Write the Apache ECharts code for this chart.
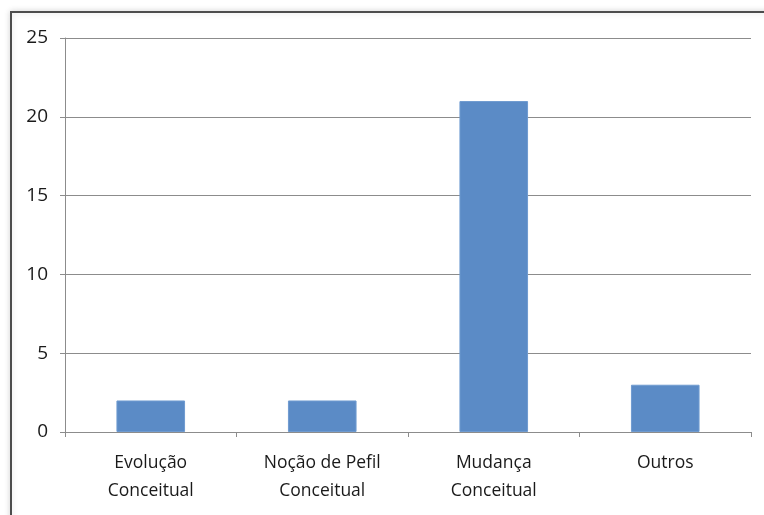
<!DOCTYPE html>
<html>
<head>
<meta charset="utf-8">
<script src="https://cdn.jsdelivr.net/npm/echarts@6/dist/echarts.min.js"></script>
<style>
  html, body { margin: 0; padding: 0; background: #fff; }
  #chart { width: 764px; height: 515px; }
</style>
</head>
<body>
<div id="chart"></div>
<script>
const categories = ["Evolução\nConceitual", "Noção de Pefil\nConceitual", "Mudança\nConceitual", "Outros"];
const values = [2, 2, 21, 3];
const yTicks = [0, 5, 10, 15, 20, 25];

const myChart = echarts.init(document.getElementById("chart"));

const gray = "#8c8c8c";
const font = "'Open Sans', 'Noto Sans', sans-serif";

let option = {
  backgroundColor: "#fff",
  animation: false,
  // outer frame of the chart box
  graphic: [
    {
      type: "rect",
      shape: { x: 11, y: 12, width: 800, height: 600 },
      style: {
        fill: "#fff",
        stroke: "#4d4d4d",
        lineWidth: 2,
        shadowBlur: 6,
        shadowColor: "rgba(0,0,0,0.15)",
      },
      z: -10,
    },
  ],
  grid: { left: 65, right: 13, top: 38, bottom: 83 },
  xAxis: {
    type: "category",
    data: categories,
    axisLine: { lineStyle: { color: gray, width: 1 } },
    axisTick: { show: true, length: 5, lineStyle: { color: gray } },
    axisLabel: {
      color: "#1a1a1a",
      fontFamily: font,
      fontSize: 17.5,
      lineHeight: 28,
      margin: 17,
      interval: 0,
    },
  },
  yAxis: {
    type: "value",
    min: yTicks[0],
    max: yTicks[yTicks.length - 1],
    interval: 5,
    axisLine: { show: true, lineStyle: { color: gray, width: 1 } },
    axisTick: { show: true, length: 5, lineStyle: { color: gray } },
    axisLabel: {
      color: "#1a1a1a",
      fontFamily: font,
      fontSize: 19,
      margin: 17,
    },
    splitLine: { lineStyle: { color: gray, width: 1 } },
  },
  series: [
    {
      type: "bar",
      data: values,
      barWidth: "40%",
      itemStyle: { color: "#5b8bc6", borderColor: "#6f9bd0", borderWidth: 1 },
    },
  ],
};

myChart.setOption(option);
</script>
</body>
</html>
